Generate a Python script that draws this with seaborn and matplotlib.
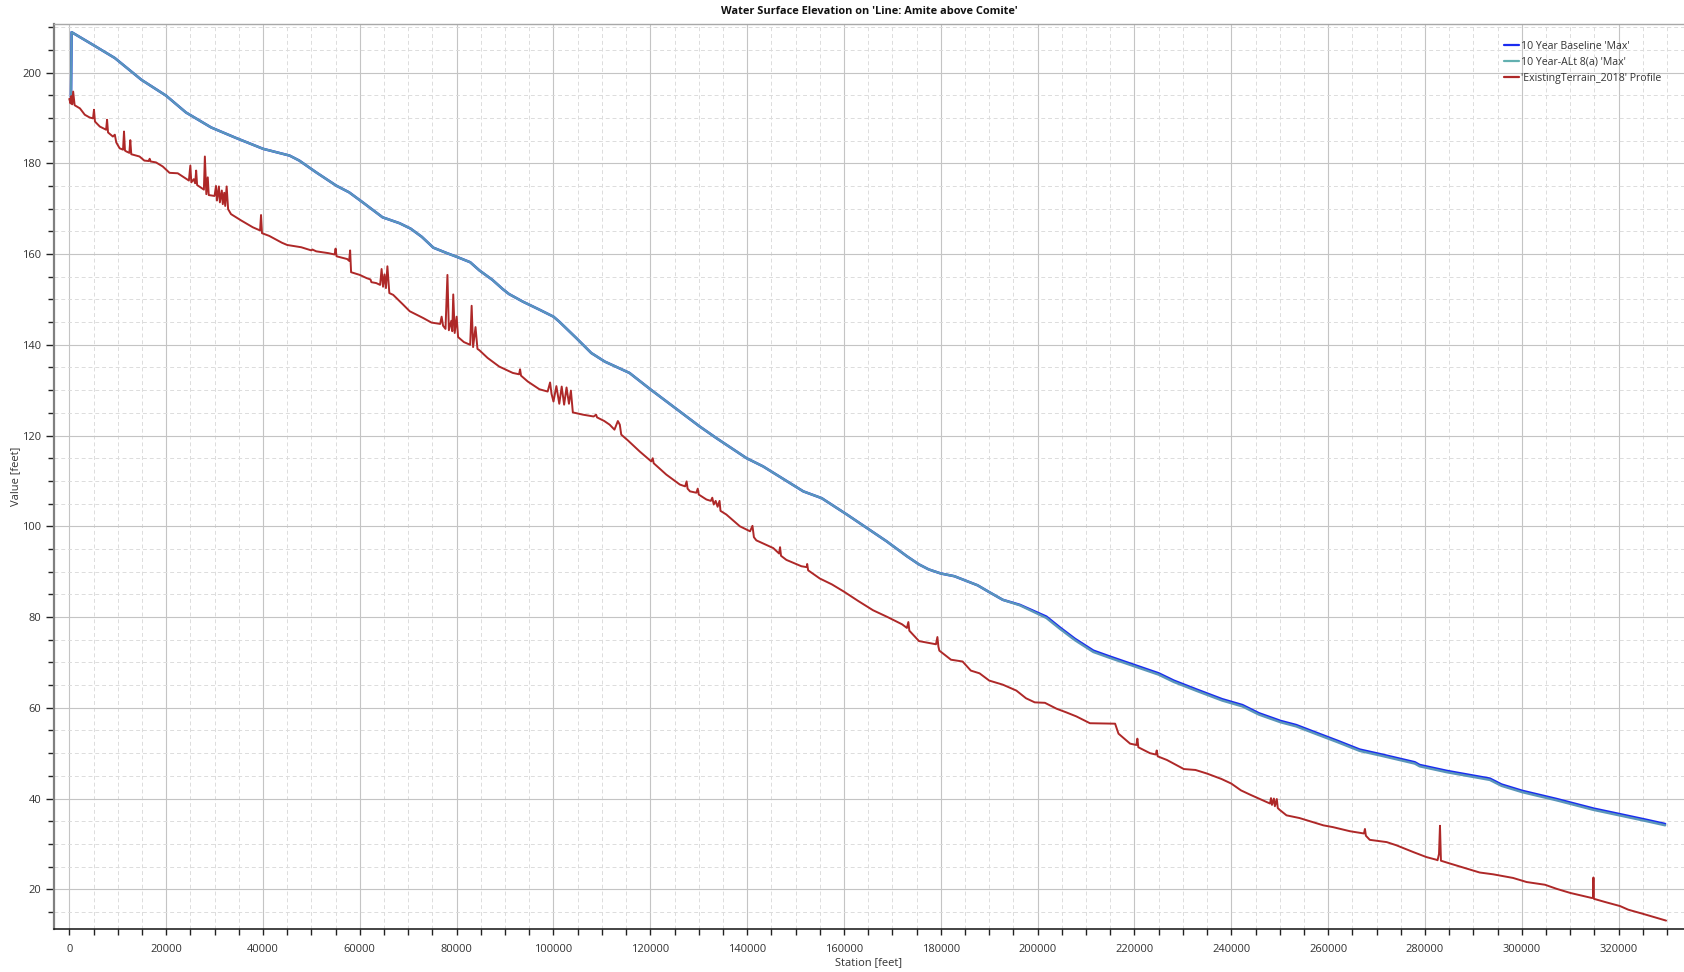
import numpy as np
import pandas as pd
import matplotlib
matplotlib.use("Agg")
import matplotlib.pyplot as plt
from matplotlib.lines import Line2D
from matplotlib.ticker import MultipleLocator
import seaborn as sns

# ---------------- data ----------------
title = "Water Surface Elevation on 'Line: Amite above Comite'"
x_label = "Station [feet]"
y_label = "Value [feet]"
series_names = ["10 Year Baseline 'Max'", "10 Year-ALt 8(a) 'Max'", "'ExistingTerrain_2018' Profile"]

wse_station = [350, 480, 4900, 9400, 14900, 20000, 24100, 29300, 34400, 40000, 45500, 47500,
               51000, 55100, 57800, 60600, 64700, 68200, 70500, 72800, 75200, 78000, 80000,
               82800, 84700, 87400, 89500, 90800, 93700, 97000, 100000, 101200, 104700, 107800,
               110600, 115700, 120000, 126100, 130200, 133700, 139900, 143300, 151600, 155400,
               160600, 168800, 173000, 175500, 177500, 180000, 182800, 187600, 190000, 192800,
               196300, 201800, 204600, 207700, 211500, 214900, 219800, 225000, 228100, 232900,
               238100, 242300, 245700, 250200, 253400, 257800, 262000, 266500, 270700, 277900,
               278900, 284500, 293400, 295800, 300100, 307200, 314800, 320100, 325800, 329600]
alt_wse = [194.6, 208.9, 206.1, 203.2, 198.4, 194.9, 191.2, 187.9, 185.6, 183.2, 181.7, 180.6,
           178.0, 175.1, 173.6, 171.4, 168.1, 166.8, 165.6, 163.8, 161.4, 160.2, 159.4,
           158.2, 156.4, 154.3, 152.3, 151.2, 149.5, 147.8, 146.2, 145.1, 141.5, 138.2,
           136.3, 133.8, 130.2, 125.3, 122.0, 119.4, 115.0, 113.2, 107.7, 106.2,
           102.6, 96.7, 93.4, 91.6, 90.5, 89.6, 89.0, 87.0, 85.5, 83.8,
           82.6, 79.8, 77.4, 74.9, 72.3, 71.0, 69.2, 67.3, 65.7, 63.7,
           61.6, 60.3, 58.5, 56.8, 55.9, 54.1, 52.4, 50.5, 49.5, 47.7,
           47.1, 45.8, 44.1, 42.8, 41.4, 39.6, 37.5, 36.3, 35.0, 34.1]
baseline_wse = [194.6, 208.9, 206.1, 203.2, 198.4, 194.9, 191.2, 187.9, 185.6, 183.2, 181.7, 180.6,
                178.0, 175.1, 173.6, 171.4, 168.1, 166.8, 165.6, 163.8, 161.4, 160.2, 159.4,
                158.2, 156.4, 154.3, 152.3, 151.2, 149.5, 147.8, 146.2, 145.1, 141.5, 138.2,
                136.3, 133.8, 130.2, 125.3, 122.0, 119.4, 115.0, 113.2, 107.7, 106.2,
                102.6, 96.7, 93.4, 91.6, 90.5, 89.6, 89.0, 87.0, 85.5, 83.8,
                82.7, 80.1, 77.7, 75.2, 72.6, 71.3, 69.5, 67.6, 66.0, 64.0,
                61.9, 60.6, 58.8, 57.1, 56.2, 54.4, 52.7, 50.8, 49.8, 48.0,
                47.4, 46.1, 44.4, 43.1, 41.7, 39.9, 37.8, 36.6, 35.3, 34.4]

terrain_station = [0, 250, 400, 600, 800, 1100, 2200, 3200, 4200, 4900, 5100, 5300, 6300, 7600, 7800,
                   8000, 9000, 9400, 9700, 10400, 11100, 11300, 11500, 11800, 12400, 12600, 12800,
                   14500, 15500, 16400, 16600, 16800, 17900, 19300, 20700, 22400, 23400, 24700,
                   25000, 25200, 25700, 26000, 26200, 26400, 27400, 27800, 28000, 28300, 28600,
                   28800, 30000, 30300, 30500, 30900, 31100, 31500, 31700, 32000, 32200, 32500,
                   32800, 33400, 35500, 37900, 39400, 39600, 39800, 41300, 43900, 45000, 47900,
                   50000, 50200, 51000, 53500, 54800, 55000, 55200, 57400, 57800, 58000, 58200,
                   60000, 61400, 62200, 62400, 63400, 64200, 64500, 64800, 65100, 65400, 65700,
                   66100, 66900, 69000, 70300, 73100, 74800, 76600, 76900, 77200, 77700, 78100,
                   78400, 78900, 79100, 79300, 79600, 80000, 80300, 81500, 82800, 83100, 83400,
                   83900, 84300, 84700, 86400, 88800, 91600, 92900, 93100, 93300, 94700, 97100,
                   98800, 99300, 99600, 100000, 100600, 101200, 101700, 102200, 102700, 103200,
                   103600, 104000, 106100, 108300, 108800, 109000, 110500, 111600, 112600, 113300,
                   113700, 114000, 115400, 117800, 120200, 120500, 120700, 123300, 126100, 127200,
                   127500, 127700, 128200, 129500, 129800, 130000, 131600, 132500, 132800, 133100,
                   133500, 133900, 134300, 134500, 135700, 138500, 140600, 141100, 141400, 141900,
                   145400, 146600, 146800, 147000, 148100, 151200, 152300, 152400, 152600, 155000,
                   157500, 160000, 163000, 166000, 169000, 172000, 173000, 173300, 173500, 175500,
                   178500, 179000, 179300, 179500, 179700, 182100, 184500, 186200, 188000, 190000,
                   192800, 195600, 197600, 199400, 201500, 203900, 205900, 208000, 210800, 216000,
                   216700, 219100, 220400, 220600, 220800, 223200, 224400, 224600, 224800, 226700,
                   230200, 232600, 235000, 238000, 240000, 242000, 244000, 246500, 248000, 248200,
                   248400, 248800, 249000, 249400, 249600, 250000, 251400, 254100, 256900, 259000,
                   261000, 264500, 267400, 267600, 267800, 268600, 272100, 274100, 277600, 280300,
                   282400, 282600, 282900, 283100, 283300, 285100, 287600, 291300, 294100, 298200,
                   301000, 304800, 307200, 310000, 314400, 314700, 314800, 314900, 317200, 320300,
                   322000, 325000, 329800]
terrain_elev = [194.2, 193.2, 194.8, 193.0, 195.8, 192.8, 192.1, 190.7, 190.1, 189.9, 191.8, 189.2, 188.1, 187.4, 189.6,
                186.8, 185.9, 186.3, 184.6, 183.3, 183.0, 187.0, 182.8, 182.6, 182.3, 185.1, 182.0,
                181.5, 180.6, 180.5, 181.0, 180.4, 180.2, 179.3, 177.9, 177.8, 177.1, 176.2,
                179.5, 175.8, 176.5, 175.6, 178.4, 175.2, 174.5, 174.2, 181.5, 173.2, 176.9,
                173.0, 172.8, 175.0, 171.8, 174.9, 171.4, 174.0, 171.0, 173.5, 170.6, 174.9,
                169.9, 168.8, 167.4, 165.9, 165.2, 168.6, 164.6, 164.0, 162.5, 162.0, 161.5,
                160.8, 161.0, 160.6, 160.2, 159.9, 161.2, 159.5, 158.9, 158.5, 160.8, 156.0,
                155.4, 154.7, 154.4, 153.8, 153.6, 153.2, 156.7, 152.8, 155.5, 152.5, 157.3,
                151.4, 151.0, 148.8, 147.4, 145.9, 144.9, 144.6, 146.2, 144.2, 143.5, 155.4,
                143.2, 145.3, 143.0, 151.1, 142.6, 146.2, 141.7, 140.6, 140.0, 148.6, 139.5,
                143.9, 139.1, 138.8, 137.1, 135.2, 133.8, 133.5, 134.6, 133.2, 131.9, 130.2,
                129.7, 131.7, 129.2, 127.5, 130.9, 127.0, 130.8, 126.8, 130.6, 127.0,
                129.9, 125.1, 124.6, 124.2, 124.6, 124.0, 123.2, 122.4, 121.3, 123.2,
                122.4, 120.2, 118.9, 116.5, 114.3, 115.0, 113.9, 111.4, 109.2, 108.8,
                109.9, 108.3, 107.7, 107.4, 108.3, 107.0, 105.9, 105.6, 106.3, 104.8,
                105.6, 104.3, 105.6, 103.4, 102.6, 100.0, 98.9, 100.1, 97.6, 96.9,
                95.2, 94.0, 95.4, 93.5, 92.6, 91.2, 91.0, 91.7, 90.3, 88.5,
                87.2, 85.6, 83.5, 81.5, 80.0, 78.4, 77.6, 78.9, 77.0, 74.7,
                74.1, 74.0, 75.6, 73.5, 72.6, 70.6, 70.2, 68.2, 67.6, 66.0,
                65.1, 63.8, 62.1, 61.2, 61.1, 59.8, 59.0, 58.1, 56.6, 56.5,
                54.3, 52.1, 51.8, 53.2, 51.3, 50.0, 49.7, 50.6, 49.3, 48.5,
                46.5, 46.3, 45.5, 44.3, 43.3, 41.8, 40.8, 39.6, 38.9, 40.1,
                38.6, 40.0, 38.3, 39.9, 37.9, 37.5, 36.3, 35.7, 34.8, 34.1,
                33.7, 32.8, 32.3, 33.3, 31.8, 30.9, 30.4, 29.7, 28.2, 27.1,
                26.5, 26.4, 27.8, 34.0, 26.3, 25.7, 24.9, 23.7, 23.3, 22.5,
                21.6, 21.0, 20.1, 19.2, 18.1, 18.1, 22.6, 17.9, 17.2, 16.3,
                15.5, 14.6, 13.1]

# ---------------- figure ----------------
sns.set_theme(style="white")
plt.rcParams['font.family'] = ['Open Sans', 'DejaVu Sans']

W, H = 1684, 972
fig = plt.figure(figsize=(W / 100, H / 100), dpi=100)
fig.patch.set_facecolor("white")
ax = fig.add_axes([54 / W, 1 - 929 / H, 1 - 54 / W, (929 - 24) / H])

c_base = "#1a2cf0"
c_alt = "#5a96ba"
c_terr = "#ae2828"

wse_df = pd.DataFrame({"station": wse_station, "base": baseline_wse, "alt": alt_wse})
ter_df = pd.DataFrame({"station": terrain_station, "elev": terrain_elev})

sns.lineplot(data=wse_df, x="station", y="base", ax=ax, color=c_base, lw=1.8,
             estimator=None, sort=False, zorder=3)
sns.lineplot(data=wse_df, x="station", y="alt", ax=ax, color=c_alt, lw=1.7,
             estimator=None, sort=False, zorder=4)
sns.lineplot(data=ter_df, x="station", y="elev", ax=ax, color=c_terr, lw=1.4,
             estimator=None, sort=False, zorder=5)

ax.set_xlim(-3160, 333500)
ax.set_ylim(11.25, 210.7)

ax.xaxis.set_major_locator(MultipleLocator(20000))
ax.xaxis.set_minor_locator(MultipleLocator(5000))
ax.yaxis.set_major_locator(MultipleLocator(20))
ax.yaxis.set_minor_locator(MultipleLocator(5))

ax.grid(which="major", color="#c4c4c4", lw=0.8, ls="-", zorder=0)
ax.grid(which="minor", color="#dcdcdc", lw=0.7, ls=(0, (4, 3)), zorder=0)
ax.set_axisbelow(True)

ax.tick_params(axis="x", which="both", direction="out", length=4, width=1, color="#222222",
               labelsize=8, labelcolor="#333333", pad=7, bottom=True)
ax.tick_params(axis="y", which="major", direction="out", length=6, width=1, color="#222222",
               labelsize=8, labelcolor="#333333", pad=3, left=True)
ax.tick_params(axis="y", which="minor", direction="out", length=4, width=1, color="#222222", left=True)

ax.spines["right"].set_visible(False)
ax.spines["left"].set_color("#808080")
ax.spines["left"].set_linewidth(1.6)
ax.spines["bottom"].set_color("#111111")
ax.spines["bottom"].set_linewidth(1.1)
ax.spines["top"].set_color("#a8a8a8")
ax.spines["top"].set_linewidth(1.0)

ax.set_xlabel(x_label, fontsize=8, color="#333333", labelpad=1)
ax.set_ylabel(y_label, fontsize=8, color="#333333", labelpad=1)

fig.text(869 / W, 1 - 11 / H, title, ha="center", va="center", fontsize=7.9,
         fontweight="bold", color="#111111")

handles = [Line2D([0], [0], color=c_base, lw=1.6),
           Line2D([0], [0], color="#62b0b0", lw=1.6),
           Line2D([0], [0], color=c_terr, lw=1.6)]
leg = ax.legend(handles, series_names, loc="upper left",
                bbox_to_anchor=(1504 / W, 1 - 41 / H), bbox_transform=fig.transFigure,
                frameon=False, fontsize=7.6, handlelength=1.4, handletextpad=0.2,
                labelspacing=0.47, borderpad=0, borderaxespad=0)
for t in leg.get_texts():
    t.set_color("#333333")

fig.savefig("out.png", dpi=100, facecolor="white")
